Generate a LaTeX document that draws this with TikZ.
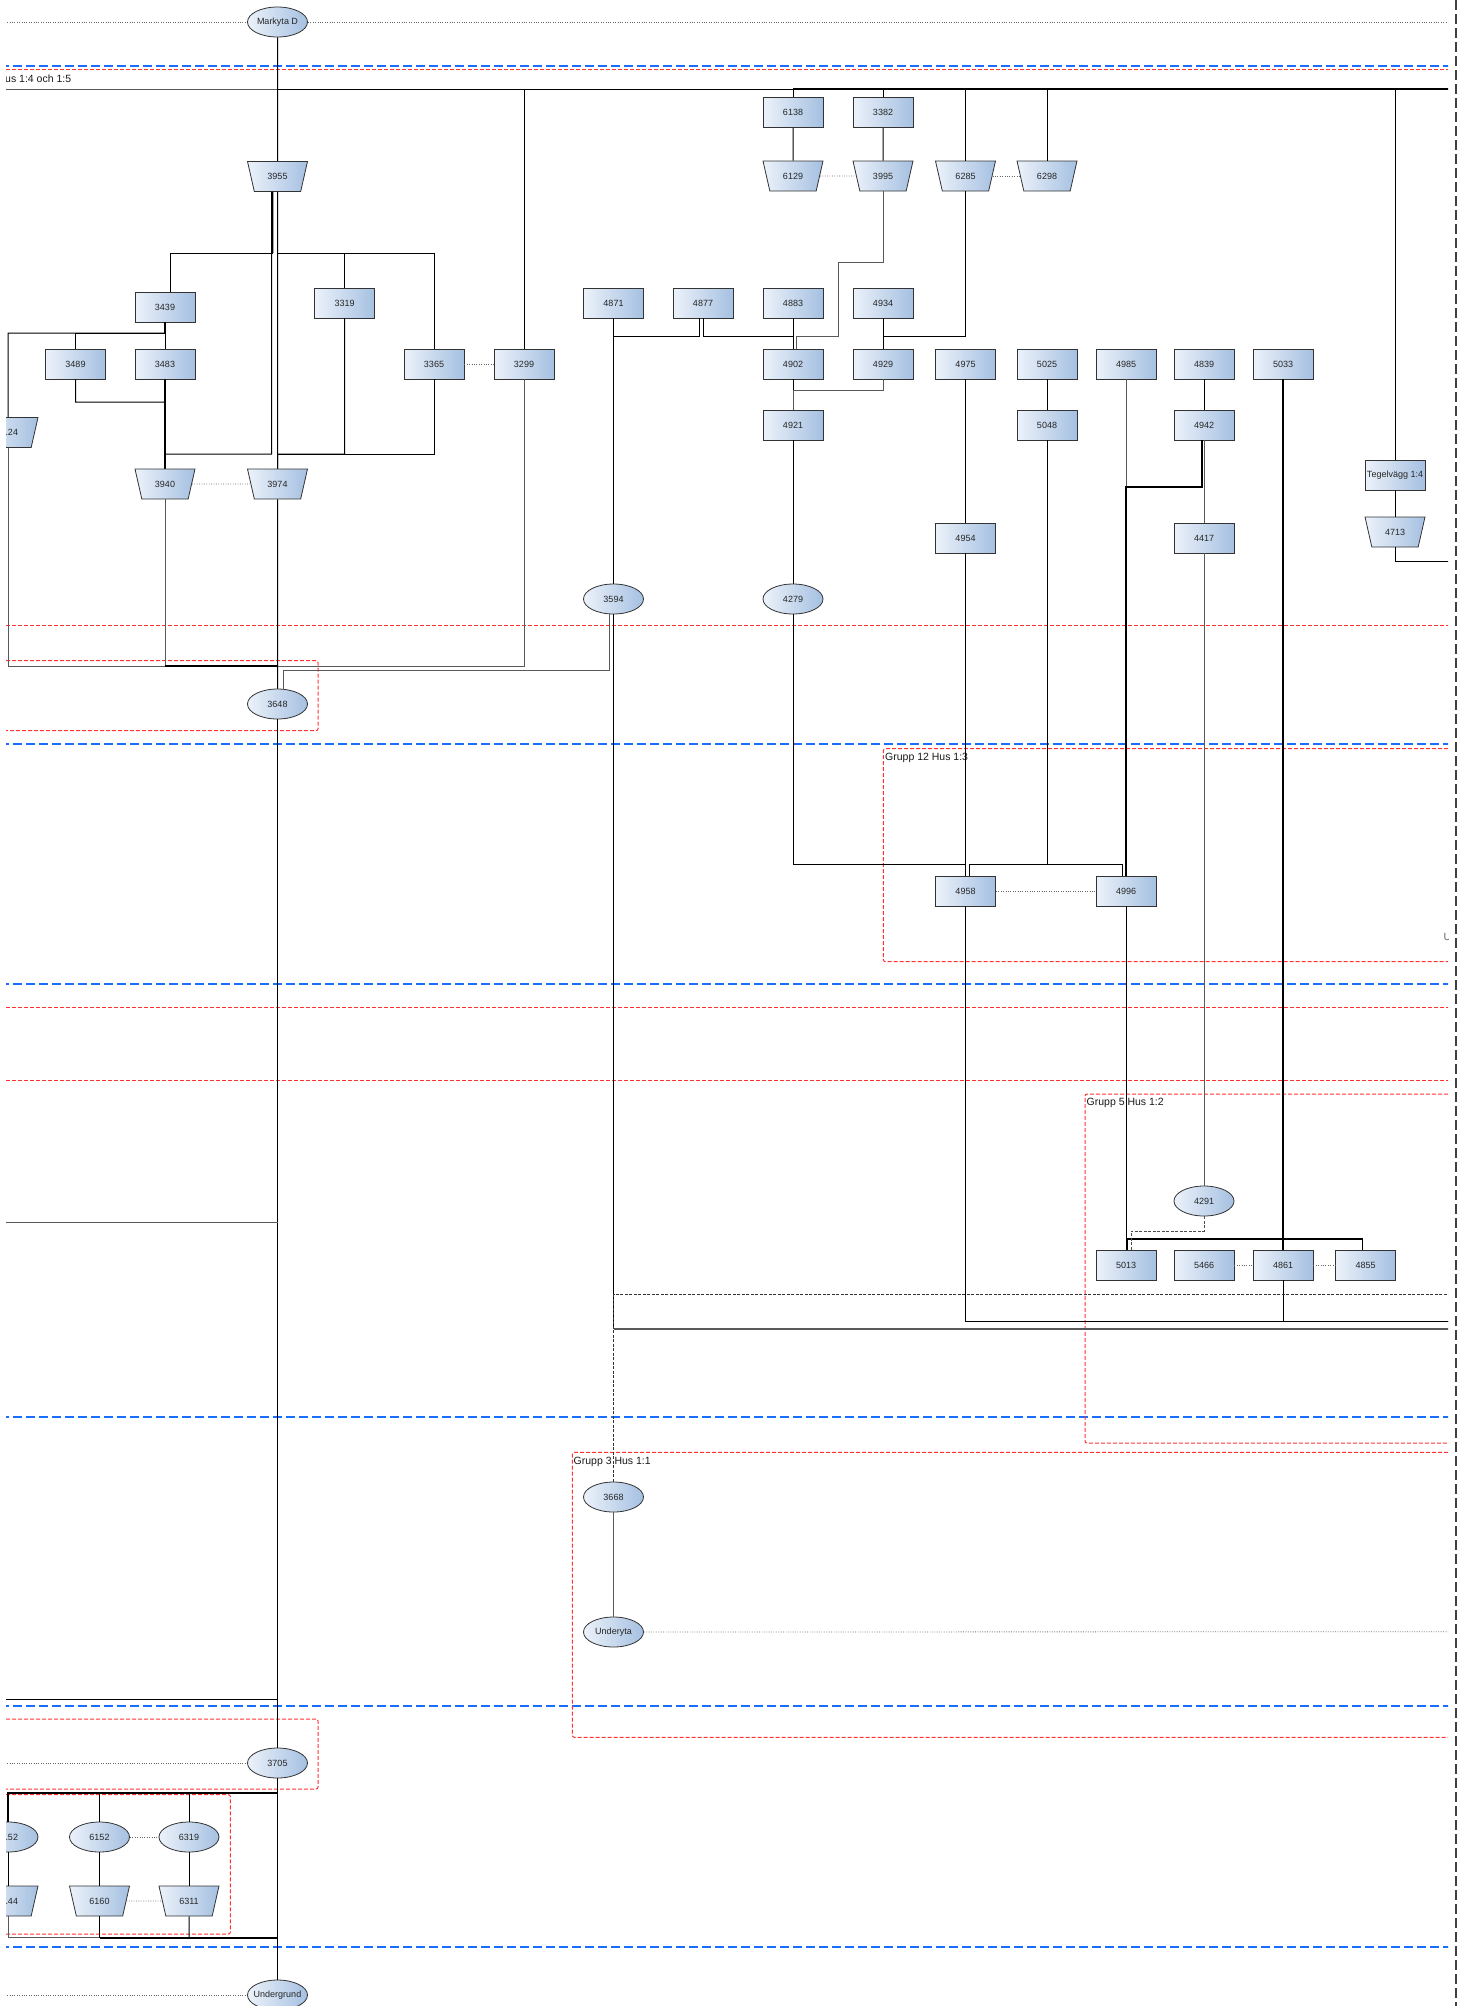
\documentclass[tikz,border=0pt]{standalone}
\usepackage{fontspec}
\setmainfont{Liberation Sans}
\usetikzlibrary{shapes.geometric}
\newcommand{\zl}[1]{\makebox[0pt][c]{#1}}
\definecolor{nodeL}{RGB}{236,242,250}
\definecolor{nodeR}{RGB}{165,192,225}
\definecolor{rdash}{RGB}{255,50,50}
\definecolor{bdash}{RGB}{25,110,255}
\tikzset{
 base/.style={draw=black!80, line width=0.8pt, left color=nodeL, right color=nodeR, font=\fontsize{9}{10}\selectfont, text=black!85, inner sep=1pt},
 boxn/.style={base, rectangle, minimum width=60pt, minimum height=30pt},
 elln/.style={base, ellipse, minimum width=60pt, minimum height=30pt},
 trapn/.style={base, trapezium, trapezium angle=77, shape border rotate=180, trapezium stretches body, inner xsep=1pt, inner ysep=11.6pt, minimum width=60pt, minimum height=30pt},
 conn/.style={line width=1pt, black},
 gconn/.style={line width=1pt, black!65},
 tconn/.style={line width=1.8pt, black},
 dotc/.style={line width=0.8pt, black!60, dash pattern=on 0.8pt off 1.6pt},
 reddash/.style={line width=1pt, rdash, dash pattern=on 4pt off 2pt, rounded corners=2pt},
 bluedash/.style={line width=1.6pt, bdash, dash pattern=on 9pt off 4pt},
 blkdash/.style={line width=1pt, black!80, dash pattern=on 3pt off 1.5pt},
 glabel/.style={font=\fontsize{10.5}{12}\selectfont, anchor=west, inner sep=0pt, text=black!90}
}
\begin{document}
\begin{tikzpicture}[x=1pt,y=-1pt]
\useasboundingbox (0,0) rectangle (1462,2006);
\draw[black!75, line width=1.1pt, dash pattern=on 10pt off 4pt] (1456,0) -- (1456,2006);
\begin{scope}
\clip (6,0) rectangle (1448,2006);
% horizontal phase lines
\foreach \yy in {65.7,744,984,1417,1706,1947} \draw[bluedash] (0,\yy) -- (1460,\yy);
\draw[reddash] (0,69.2) -- (1460,69.2);
\draw[reddash] (0,625.7) -- (1460,625.7);
\draw[reddash] (0,1007.7) -- (1460,1007.7);
\draw[reddash] (0,1080) -- (1460,1080);
% group frames
\draw[reddash] (0,660.7) -- (318,660.7) -- (318,730.7) -- (0,730.7);
\draw[reddash] (1460,748.7) -- (883.4,748.7) -- (883.4,961.7) -- (1460,961.7);
\draw[reddash] (1460,1094) -- (1085,1094) -- (1085,1443) -- (1460,1443);
\draw[reddash] (1460,1452.3) -- (572.4,1452.3) -- (572.4,1737.3) -- (1460,1737.3);
\draw[reddash] (0,1719) -- (318,1719) -- (318,1789) -- (0,1789);
\draw[reddash] (0,1794.7) -- (230.4,1794.7) -- (230.4,1934) -- (0,1934);
% labels
\node[glabel] (lab1) at (5,79) {us 1:4 och 1:5};
\node[glabel] (lab2) at (885,757.7) {Grupp 12 Hus 1:3};
\node[glabel] (lab3) at (1086.5,1103) {Grupp 5 Hus 1:2};
\node[glabel] (lab4) at (573.5,1462) {Grupp 3 Hus 1:1};
\node[glabel, text=black!60] (lab5) at (1443.5,937) {U};
% free-end coordinates
\coordinate (mdL) at (0,22); \coordinate (mdR) at (1460,22);
\coordinate (hL) at (0,89); \coordinate (h277) at (277.5,89); \coordinate (h793) at (793,89); \coordinate (hR) at (1460,89);
\coordinate (r561) at (1460,561);
\coordinate (r1295) at (1460,1294.7);
\coordinate (r1321) at (1460,1321);
\coordinate (r1329) at (1460,1328.7);
\coordinate (r1632) at (1460,1631.7);
\coordinate (l1222) at (0,1222);
\coordinate (l1699) at (0,1699);
\coordinate (l1763) at (0,1763);
\coordinate (l1995) at (0,1995);
% nodes: ellipses
\node[elln] (md) at (277.5,22) {\zl{Markyta D}};
\node[elln] (e3648) at (277.5,704) {3648};
\node[elln] (e3594) at (613.5,599) {3594};
\node[elln] (e4279) at (793,599) {4279};
\node[elln] (e4291) at (1204,1201) {4291};
\node[elln] (e3668) at (613.5,1497) {3668};
\node[elln] (eund) at (613.5,1632) {\zl{Underyta}};
\node[elln] (e3705) at (277.5,1763) {3705};
\node[elln] (e152) at (8,1837) {\phantom{0}152};
\node[elln] (e6152) at (99.5,1837) {6152};
\node[elln] (e6319) at (189,1837) {6319};
\node[elln] (eug) at (277.5,1995) {\zl{Undergrund}};
% boxes
\node[boxn] (b6138) at (793,112.5) {6138};
\node[boxn] (b3382) at (883,112.5) {3382};
\node[boxn] (b3439) at (165,307) {3439};
\node[boxn] (b3319) at (344.6,303) {3319};
\node[boxn] (b3489) at (75.5,364) {3489};
\node[boxn] (b3483) at (165,364) {3483};
\node[boxn] (b3365) at (434,364) {3365};
\node[boxn] (b3299) at (524,364) {3299};
\node[boxn] (b4871) at (613.5,303) {4871};
\node[boxn] (b4877) at (703,303) {4877};
\node[boxn] (b4883) at (793,303) {4883};
\node[boxn] (b4934) at (883,303) {4934};
\node[boxn] (b4902) at (793,364) {4902};
\node[boxn] (b4929) at (883,364) {4929};
\node[boxn] (b4975) at (965.5,364) {4975};
\node[boxn] (b5025) at (1047,364) {5025};
\node[boxn] (b4985) at (1126,364) {4985};
\node[boxn] (b4839) at (1204,364) {4839};
\node[boxn] (b5033) at (1283,364) {5033};
\node[boxn] (b4921) at (793,425) {4921};
\node[boxn] (b5048) at (1047,425) {5048};
\node[boxn] (b4942) at (1204,425) {4942};
\node[boxn] (b4954) at (965.5,538) {4954};
\node[boxn] (b4417) at (1204,538) {4417};
\node[boxn] (bteg) at (1395,475) {\zl{Tegelvägg 1:4}};
\node[boxn] (b4958) at (965.5,891) {4958};
\node[boxn] (b4996) at (1126,891) {4996};
\node[boxn] (b5013) at (1126,1265) {5013};
\node[boxn] (b5466) at (1204,1265) {5466};
\node[boxn] (b4861) at (1283,1265) {4861};
\node[boxn] (b4855) at (1365.5,1265) {4855};
% trapezia
\node[trapn] (t3955) at (277.5,176.5) {3955};
\node[trapn] (t6129) at (793,176) {6129};
\node[trapn] (t3995) at (883,176) {3995};
\node[trapn] (t6285) at (965.5,176) {6285};
\node[trapn] (t6298) at (1047,176) {6298};
\node[trapn] (t124) at (8,432.5) {\phantom{0}124};
\node[trapn] (t3940) at (165,484) {3940};
\node[trapn] (t3974) at (277.5,484) {3974};
\node[trapn] (t4713) at (1395,532) {4713};
\node[trapn] (t144) at (8,1901) {\phantom{0}144};
\node[trapn] (t6160) at (99.5,1901) {6160};
\node[trapn] (t6311) at (189,1901) {6311};
% dotted contemporaneity links
\draw[dotc] (mdL) -- (md); \draw[dotc] (md) -- (mdR);
\draw[dotc] (t6129) -- (t3995);
\draw[dotc] (t6285) -- (t6298);
\draw[dotc] (b3365) -- (b3299);
\draw[dotc] (t3940) -- (t3974);
\draw[dotc] (b4958) -- (b4996);
\draw[dotc] (b5466) -- (b4861);
\draw[dotc] (b4861) -- (b4855);
\draw[dotc] (eund) -- (r1632);
\draw[dotc] (l1763) -- (e3705);
\draw[dotc] (e6152) -- (e6319);
\draw[dotc] (t6160) -- (t6311);
\draw[dotc] (l1995) -- (eug);
% top bus
\draw[gconn] (hL) -- (h277);
\draw[conn] (h277) -- (h793);
\draw[tconn] (h793) -- (hR);
\draw[conn] (h277 -| b3299.north) -- (b3299.north);
\draw[conn] (h793) -- (b6138.north);
\draw[conn] (h793 -| b3382.north) -- (b3382.north);
\draw[conn] (h793 -| t6285.north) -- (t6285.north);
\draw[conn] (h793 -| t6298.north) -- (t6298.north);
\draw[conn] (h793 -| bteg.north) -- (bteg.north);
% main column top
\draw[conn] (md) -- (t3955);
\draw[conn] (b6138) -- (t6129);
\draw[conn] (b3382) -- (t3995);
\draw[gconn] (t3995.south) |- (838,262) -- (838,336) -| ([xshift=3pt]b4902.north);
\draw[conn] (t6285.south) |- (883,336) -- (b4929.north);
\draw[conn] (b4934) -- (b4929);
\draw[conn] (b4883) -- (b4902);
\draw[tconn] (b4871.south) -- (613.5,336) -- (e3594.north);
\draw[conn] ([xshift=-4pt]b4877.south) |- (613.5,336);
\draw[conn] (b4877.south) |- (793,336) -- (b4902.north);
\draw[conn] (b4902) -- (b4921);
\draw[gconn] (b4929.south) |- (793,390) -- (b4921.north);
\draw[conn] (b4921) -- (e4279);
\draw[conn] (e4279.south) |- (965.5,864) -- (b4958.north);
\draw[conn] (b4975) -- (b4954);
\draw[conn] (b4954) -- (b4958);
\draw[conn] (b5025) -- (b5048);
\draw[conn] (b5048.south) -- (1047,864) -| ([xshift=4pt]b4958.north);
\draw[conn] (1047,864) -| ([xshift=-4pt]b4996.north);
\draw[gconn] (b4985.south) -- (1126,487);
\draw[tconn] ([xshift=-2pt]b4942.south) |- (1126,487) -- (b4996.north);
\draw[conn] (b4839) -- (b4942);
\draw[gconn] (b4942) -- (b4417);
\draw[gconn] (b4417) -- (e4291);
\draw[conn] (bteg) -- (t4713);
\draw[conn] (t4713.south) |- (r561);
\draw[tconn] (b5033.south) -- (b4861.north);
\draw[tconn] (1283,1239) -| ([xshift=0.7pt]b5013.north);
\draw[tconn] (1283,1239) -| ([xshift=-3pt]b4855.north);
\draw[blkdash, black!70] (e4291.south) |- (1131,1231) -- ([xshift=5pt]b5013.north);
\draw[conn] (b4996) -- (b5013);
\draw[conn] (b4861.south) |- (r1321);
\draw[conn] (b4958.south) |- (r1321);
% 3594 column
\draw[gconn] ([xshift=-4.5pt]e3594.south) |- (283,670.7) -- ([xshift=5.5pt]e3648.north);
\draw[tconn] (e3594.south) -- (613.5,1328.7);
\draw[gconn, line width=1.6pt] (613.5,1328.7) -- (r1329);
\draw[blkdash] (r1295) -| (e3668.north);
\draw[gconn] (e3668) -- (eund);
% left group
\draw[tconn] ([xshift=-5pt]t3955.south) -- (272.5,253);
\draw[conn] (272.5,253) -| ([xshift=5pt]b3439.north);
\draw[conn] ([xshift=-6pt]t3955.south) |- (165,454) -- (t3940.north);
\draw[conn] (t3955) -- (t3974);
\draw[conn] (t3955.south) |- (344.6,253) -- (b3319.north);
\draw[conn] (t3955.south) |- (434,253) -- (b3365.north);
\draw[conn] (b3319.south) |- (277.5,454) -- (t3974.north);
\draw[conn] (b3365.south) |- (277.5,454);
\draw[tconn] (b3439.south) -- (165,333);
\draw[conn] (b3439) -- (b3483);
\draw[conn] (b3439.south) |- (75.5,333) -- (b3489.north);
\draw[conn] (b3439.south) |- (8,333) -- (t124.north);
\draw[conn] (b3489.south) |- (165,402) -- (t3940.north);
\draw[tconn] (b3483.south) -- (t3940.north);
\draw[gconn] (t124.south) |- (277.5,666) -- (e3648.north);
\draw[gconn] (t3940.south) |- (277.5,666);
\draw[conn] (t3974) -- (e3648);
\draw[gconn] (b3299.south) |- (277.5,666);
\draw[tconn] (165,666) -- (277.5,666);
% main column lower
\draw[conn, line width=1.3pt] (e3648) -- (e3705);
\draw[gconn] (l1222) -- (277.5,1222);
\draw[conn] (l1699) -- (277.5,1699);
\draw[tconn] (e3705.south) |- (8,1793) -- (e152.north);
\draw[conn] (99.5,1793) -- (e6152.north);
\draw[conn] (189,1793) -- (e6319.north);
\draw[conn] (e152) -- (t144);
\draw[conn] (e6152) -- (t6160);
\draw[conn] (e6319) -- (t6311);
\draw[gconn] (t144.south) |- (277.5,1937.7);
\draw[conn] (t6160.south) |- (277.5,1937.7);
\draw[conn] (t6311.south) -- (189,1937.7);
\draw[tconn] (99.5,1937.7) -- (277.5,1937.7);
\draw[conn, line width=1.3pt] (e3705) -- (eug);
\end{scope}
\end{tikzpicture}
\end{document}
